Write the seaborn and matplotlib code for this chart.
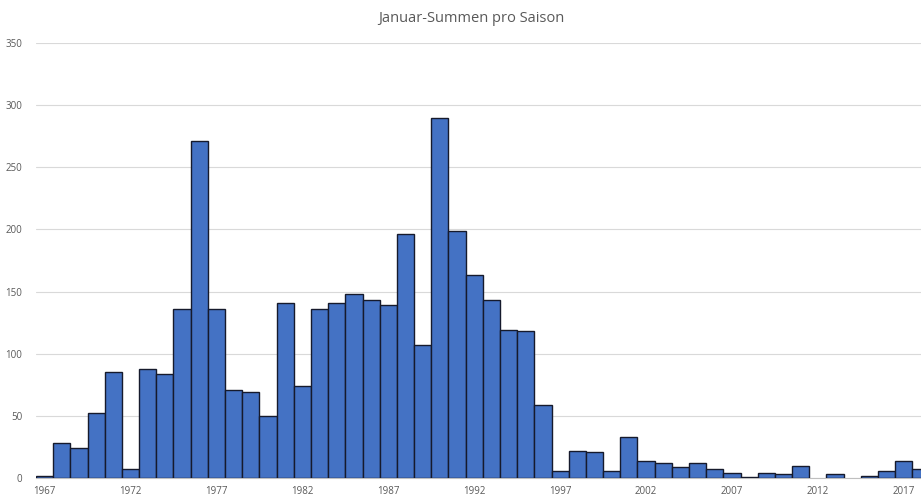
import matplotlib
matplotlib.use("Agg")
import matplotlib.pyplot as plt
import seaborn as sns
import pandas as pd

# Seasons (January totals per season)
seasons = list(range(1967, 2019))
january_totals = [
    2, 28, 24, 52, 85, 7, 88, 84, 136, 271,
    136, 71, 69, 50, 141, 74, 136, 141, 148, 143,
    139, 196, 107, 290, 199, 163, 143, 119, 118, 59,
    6, 22, 21, 6, 33, 14, 12, 9, 12, 7,
    4, 1, 4, 3, 10, 0, 3, 0, 2, 6,
    14, 7,
]
y_ticks = [0, 50, 100, 150, 200, 250, 300, 350]
title = "Januar-Summen pro Saison"

df = pd.DataFrame({"Saison": [str(s) for s in seasons], "Summe": january_totals})

sns.set_theme(style="white")
plt.rcParams["font.family"] = ["Open Sans", "DejaVu Sans"]

W, H = 921, 497
fig = plt.figure(figsize=(W / 100, H / 100), dpi=100)
ax = fig.add_axes([36 / W, (H - 478) / H, (921 - 36) / W, (478 - 43) / H])

sns.barplot(
    data=df, x="Saison", y="Summe", ax=ax,
    color="#4472C4", saturation=1, width=1.0,
    edgecolor="#161a2c", linewidth=1.0, zorder=3,
)
# empty seasons get no outline
for patch in ax.patches:
    if patch.get_height() == 0:
        patch.set_linewidth(0)

ax.set_ylim(0, 350)
ax.set_xlim(-0.5, 51.0)
ax.set_yticks(y_ticks)
ax.set_yticklabels([str(v) for v in y_ticks], color="#595959", fontsize=7)
ax.yaxis.grid(True, color="#d9d9d9", linewidth=0.8, zorder=0)
ax.set_axisbelow(True)

tick_idx = list(range(0, len(seasons), 5))
ax.set_xticks(tick_idx)
ax.set_xticklabels([str(seasons[i]) for i in tick_idx], color="#595959", fontsize=7)
ax.tick_params(axis="both", length=0, pad=6)
ax.tick_params(axis="y", pad=10)

for side in ["top", "right", "left"]:
    ax.spines[side].set_visible(False)
ax.spines["bottom"].set_color("#bfbfbf")
ax.spines["bottom"].set_linewidth(0.8)
ax.set_xlabel("")
ax.set_ylabel("")

fig.text(471.5 / W, 1 - 19 / H, title, ha="center", va="center",
         fontsize=10.5, color="#595959")

fig.savefig("out.png", dpi=100)
